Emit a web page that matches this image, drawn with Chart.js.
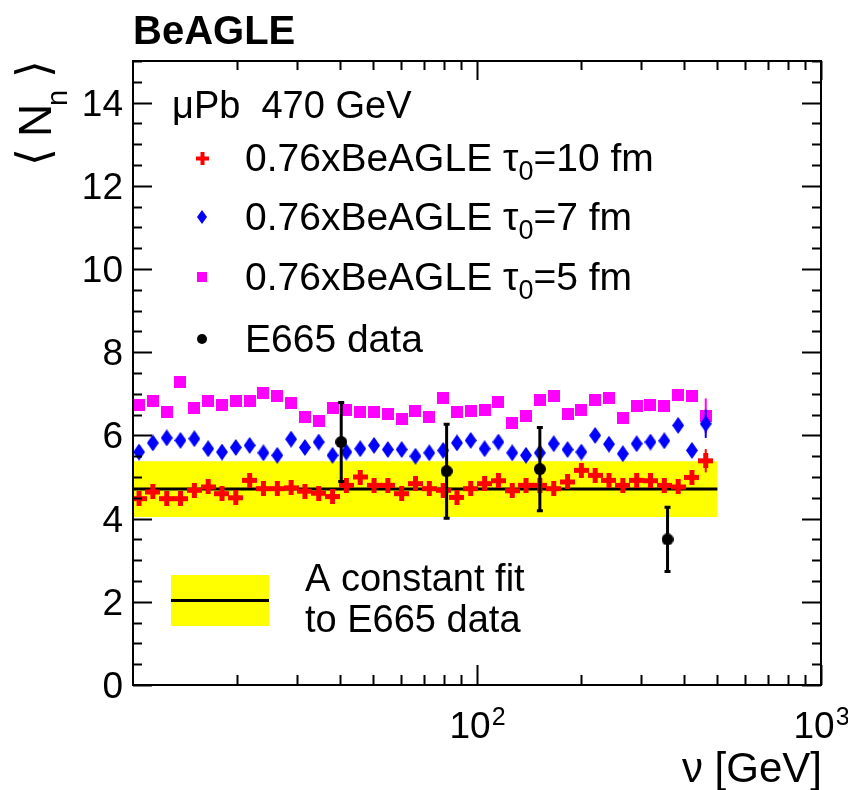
<!DOCTYPE html>
<html>
<head>
<meta charset="utf-8">
<script src="https://cdn.jsdelivr.net/npm/chart.js@4/dist/chart.umd.min.js"></script>
<style>
  html, body { margin: 0; padding: 0; background: #ffffff; }
  #wrap { width: 848px; height: 790px; }
</style>
</head>
<body>
<div id="wrap"><canvas id="c" width="848" height="790"></canvas></div>
<script>
// Photon energy bins (GeV), log-spaced bin centres
const NU = [10.41, 11.42, 12.53, 13.74, 15.08, 16.54, 18.14, 19.90, 21.83, 23.94,
            26.27, 28.81, 31.60, 34.66, 38.02, 41.71, 45.76, 50.19, 55.06, 60.39,
            66.25, 72.67, 79.72, 87.44, 95.90, 105.2, 115.4, 126.6, 138.8, 152.3,
            167.1, 183.3, 201.1, 220.5, 241.9, 265.4, 291.1, 319.4, 350.3, 384.3,
            421.5, 462.3];

// Mean neutron multiplicity, 0.76 x BeAGLE, formation time tau0 = 10 fm
const N_TAU10 = [4.48, 4.64, 4.48, 4.48, 4.68, 4.76, 4.60, 4.50, 4.92, 4.72,
                 4.72, 4.74, 4.66, 4.61, 4.53, 4.80, 5.00, 4.80, 4.80, 4.60,
                 4.84, 4.72, 4.68, 4.51, 4.72, 4.84, 4.91, 4.67, 4.80, 4.80,
                 4.72, 4.88, 5.16, 5.04, 4.92, 4.80, 4.92, 4.91, 4.80, 4.76,
                 4.99, 5.39];
const ERR_TAU10 = [0, 0, 0, 0, 0, 0, 0, 0, 0, 0, 0, 0, 0, 0, 0, 0, 0, 0, 0, 0, 0,
                   0, 0, 0, 0, 0, 0, 0, 0, 0, 0, 0, 0, 0, 0, 0, 0, 0, 0, 0, 0, 0.28];

// tau0 = 7 fm
const N_TAU7 = [5.60, 5.82, 5.94, 5.88, 5.92, 5.68, 5.60, 5.71, 5.76, 5.58,
                5.52, 5.91, 5.71, 5.84, 5.52, 5.60, 5.68, 5.76, 5.66, 5.66,
                5.50, 5.58, 5.64, 5.82, 5.88, 5.68, 5.84, 5.58, 5.52, 5.58,
                5.80, 5.66, 5.60, 6.00, 5.79, 5.56, 5.80, 5.84, 5.87, 6.24,
                5.64, 6.28];
const ERR_TAU7 = [0, 0, 0, 0, 0, 0, 0, 0, 0, 0, 0, 0, 0, 0, 0, 0, 0, 0, 0, 0, 0,
                  0, 0, 0, 0, 0, 0, 0, 0, 0, 0, 0, 0, 0, 0, 0, 0, 0, 0, 0, 0, 0.34];

// tau0 = 5 fm
const N_TAU5 = [6.72, 6.83, 6.56, 7.28, 6.65, 6.82, 6.74, 6.83, 6.83, 7.02,
                6.95, 6.79, 6.44, 6.35, 6.65, 6.60, 6.56, 6.56, 6.52, 6.39,
                6.58, 6.44, 6.90, 6.56, 6.59, 6.62, 6.80, 6.30, 6.47, 6.84,
                6.94, 6.52, 6.62, 6.86, 6.89, 6.42, 6.71, 6.72, 6.70, 6.96,
                6.95, 6.47];
const ERR_TAU5 = [0, 0, 0, 0, 0, 0, 0, 0, 0, 0, 0, 0, 0, 0, 0, 0, 0, 0, 0, 0, 0,
                  0, 0, 0, 0, 0, 0, 0, 0, 0, 0, 0, 0, 0, 0, 0, 0, 0, 0, 0, 0, 0.42];

// E665 measurement
const E665_NU  = [40.3, 81.6, 152.3, 358.0];
const E665_N   = [5.84, 5.14, 5.19, 3.50];
const E665_ERR = [0.95, 1.13, 1.00, 0.77];

// Constant fit to the E665 points and its band
const FIT_VALUE = 4.71;
const FIT_ERR   = 0.67;
const FIT_RANGE = [10, 500];

// Axis ticks
const X_RANGE = [10, 1000];
const Y_RANGE = [0, 15];
const X_MAJOR = [100, 1000];
const X_MAJOR_LABELS = [['10', '2'], ['10', '3']];
const X_MINOR = [20, 30, 40, 50, 60, 70, 80, 90, 200, 300, 400, 500, 600, 700, 800, 900];
const Y_MAJOR = [0, 2, 4, 6, 8, 10, 12, 14];
const Y_MAJOR_LABELS = ['0', '2', '4', '6', '8', '10', '12', '14'];
const Y_MINOR_STEP = 0.5;

// Legend text
const HEADER = 'μPb  470 GeV';
const LABEL_TAU10 = ['0.76xBeAGLE τ', '0', '=10 fm'];
const LABEL_TAU7  = ['0.76xBeAGLE τ', '0', '=7 fm'];
const LABEL_TAU5  = ['0.76xBeAGLE τ', '0', '=5 fm'];
const LABEL_DATA  = 'E665 data';
const LABEL_FIT   = ['A constant fit', 'to E665 data'];
const TITLE = 'BeAGLE';

const RED = '#ff0000', BLUE = '#0000ff', MAGENTA = '#ff00ff', YELLOW = '#ffff00', BLACK = '#000000';
const FONT = "'Liberation Sans', Arial, Helvetica, sans-serif";

// ---- marker sprites (ROOT-like markers) ----
function crossSprite(color, size, arm) {
  const c = document.createElement('canvas');
  c.width = size; c.height = size;
  const g = c.getContext('2d');
  g.fillStyle = color;
  const o = (size - arm) / 2;
  g.fillRect(o, 0, arm, size);
  g.fillRect(0, o, size, arm);
  return c;
}
function diamondSprite(color, w, h) {
  const c = document.createElement('canvas');
  c.width = w; c.height = h;
  const g = c.getContext('2d');
  g.fillStyle = color;
  g.beginPath();
  g.moveTo(w / 2, 0); g.lineTo(w, h / 2); g.lineTo(w / 2, h); g.lineTo(0, h / 2);
  g.closePath(); g.fill();
  return c;
}
function squareSprite(color, s) {
  const c = document.createElement('canvas');
  c.width = s; c.height = s;
  const g = c.getContext('2d');
  g.fillStyle = color;
  g.fillRect(0, 0, s, s);
  return c;
}
function circleSprite(color, d) {
  const c = document.createElement('canvas');
  c.width = d; c.height = d;
  const g = c.getContext('2d');
  g.fillStyle = color;
  g.beginPath(); g.arc(d / 2, d / 2, d / 2, 0, Math.PI * 2); g.fill();
  return c;
}

const MK_CROSS = crossSprite(RED, 15, 5);
const MK_DIAMOND = diamondSprite(BLUE, 12, 17);
const MK_SQUARE = squareSprite(MAGENTA, 12);
const MK_CIRCLE = circleSprite(BLACK, 12);
const LG_CROSS = crossSprite(RED, 13, 4);
const LG_DIAMOND = diamondSprite(BLUE, 10, 14);
const LG_SQUARE = squareSprite(MAGENTA, 10);
const LG_CIRCLE = circleSprite(BLACK, 10);

const pts = (xs, ys) => xs.map((x, i) => ({ x: x, y: ys[i] }));

// ---- error bars, drawn just before each dataset's markers ----
const errorBars = {
  id: 'errorBars',
  beforeDatasetDraw(chart, args) {
    const ds = chart.data.datasets[args.index];
    if (!ds.errors) return;
    const ys = chart.scales.y;
    const ctx = chart.ctx;
    ctx.save();
    ctx.strokeStyle = ds.errColor;
    ctx.lineWidth = ds.errWidth;
    args.meta.data.forEach((el, i) => {
      const e = ds.errors[i];
      if (!e) return;
      const v = ds.data[i].y;
      const y1 = ys.getPixelForValue(v + e);
      const y2 = ys.getPixelForValue(v - e);
      ctx.beginPath();
      ctx.moveTo(el.x, y1); ctx.lineTo(el.x, y2);
      if (ds.errCap) {
        ctx.moveTo(el.x - ds.errCap, y1); ctx.lineTo(el.x + ds.errCap, y1);
        ctx.moveTo(el.x - ds.errCap, y2); ctx.lineTo(el.x + ds.errCap, y2);
      }
      ctx.stroke();
    });
    ctx.restore();
  }
};

// ---- frame, inward ticks, labels, title and legends ----
function textWithSub(ctx, x, y, parts, size) {
  // parts: [main, subscript, rest]
  ctx.font = size + 'px ' + FONT;
  ctx.fillText(parts[0], x, y);
  let w = ctx.measureText(parts[0]).width;
  const sub = Math.round(size * 0.7);
  ctx.font = sub + 'px ' + FONT;
  ctx.fillText(parts[1], x + w, y + size * 0.22);
  w += ctx.measureText(parts[1]).width;
  ctx.font = size + 'px ' + FONT;
  ctx.fillText(parts[2], x + w, y);
}

const frame = {
  id: 'frame',
  afterDraw(chart) {
    const ctx = chart.ctx;
    const a = chart.chartArea;
    const xs = chart.scales.x, ys = chart.scales.y;
    ctx.save();
    ctx.strokeStyle = BLACK;
    ctx.fillStyle = BLACK;
    ctx.lineWidth = 2;

    // frame
    ctx.strokeRect(a.left, a.top, a.right - a.left, a.bottom - a.top);

    // y ticks (both sides)
    ctx.beginPath();
    for (let v = Y_RANGE[0]; v <= Y_RANGE[1] + 1e-9; v += Y_MINOR_STEP) {
      const y = Math.round(ys.getPixelForValue(v)) + 0.5;
      const len = Y_MAJOR.indexOf(v) >= 0 ? 19 : 9;
      ctx.moveTo(a.left, y); ctx.lineTo(a.left + len, y);
      ctx.moveTo(a.right, y); ctx.lineTo(a.right - len, y);
    }
    // x ticks (bottom and top)
    X_MINOR.forEach(v => {
      const x = Math.round(xs.getPixelForValue(v)) + 0.5;
      ctx.moveTo(x, a.bottom); ctx.lineTo(x, a.bottom - 10);
      ctx.moveTo(x, a.top); ctx.lineTo(x, a.top + 9);
    });
    X_MAJOR.forEach(v => {
      const x = Math.round(xs.getPixelForValue(v)) + 0.5;
      ctx.moveTo(x, a.bottom); ctx.lineTo(x, a.bottom - 20);
      ctx.moveTo(x, a.top); ctx.lineTo(x, a.top + 19);
    });
    ctx.stroke();

    // y tick labels
    ctx.textAlign = 'right';
    ctx.textBaseline = 'alphabetic';
    ctx.font = '37px ' + FONT;
    Y_MAJOR.forEach((v, i) => {
      const y = ys.getPixelForValue(v);
      ctx.fillText(Y_MAJOR_LABELS[i], a.left - 10, y + 13);
    });

    // x tick labels: 10^n
    X_MAJOR.forEach((v, i) => {
      const x = xs.getPixelForValue(v);
      const [base, exp] = X_MAJOR_LABELS[i];
      ctx.font = '37px ' + FONT;
      const wb = ctx.measureText(base).width;
      ctx.font = '25px ' + FONT;
      const we = ctx.measureText(exp).width;
      const x0 = x - (wb + we) / 2;
      ctx.textAlign = 'left';
      ctx.font = '37px ' + FONT;
      ctx.fillText(base, x0, 738);
      ctx.font = '25px ' + FONT;
      ctx.fillText(exp, x0 + wb + 1, 725);
    });

    // x axis title
    ctx.textAlign = 'right';
    ctx.font = '42px ' + FONT;
    ctx.fillText('ν [GeV]', a.right + 1, 782);

    // y axis title: <N_n>, reading upward
    const rot = (txt, font, bx, by) => {
      ctx.save();
      ctx.translate(bx, by);
      ctx.rotate(-Math.PI / 2);
      ctx.textAlign = 'left';
      ctx.font = font;
      ctx.fillText(txt, 0, 0);
      ctx.restore();
    };
    rot('⟨', "46px 'DejaVu Sans'", 49, 166);
    rot('N', '46px ' + FONT, 51, 137);
    rot('n', '29px ' + FONT, 67, 106);
    rot('⟩', "46px 'DejaVu Sans'", 49, 78);

    // title
    ctx.textAlign = 'left';
    ctx.font = 'bold 40px ' + FONT;
    ctx.fillText(TITLE, 133, 44);

    // upper legend
    ctx.font = '38px ' + FONT;
    ctx.fillText(HEADER, 172, 118);
    const rows = [
      [LG_CROSS, LABEL_TAU10, 158],
      [LG_DIAMOND, LABEL_TAU7, 217],
      [LG_SQUARE, LABEL_TAU5, 277],
    ];
    rows.forEach(([img, lab, cy]) => {
      ctx.drawImage(img, Math.round(202 - img.width / 2), Math.round(cy - img.height / 2));
      textWithSub(ctx, 245, cy + 13, lab, 39);
    });
    ctx.drawImage(LG_CIRCLE, 202 - LG_CIRCLE.width / 2, 339 - LG_CIRCLE.height / 2);
    ctx.font = '39px ' + FONT;
    ctx.fillText(LABEL_DATA, 245, 352);

    // lower legend: fit band + line
    ctx.fillStyle = YELLOW;
    ctx.fillRect(171, 575, 98, 51);
    ctx.strokeStyle = BLACK;
    ctx.lineWidth = 3;
    ctx.beginPath(); ctx.moveTo(171, 600.5); ctx.lineTo(269, 600.5); ctx.stroke();
    ctx.fillStyle = BLACK;
    ctx.font = '38px ' + FONT;
    ctx.fillText(LABEL_FIT[0], 305, 591);
    ctx.fillText(LABEL_FIT[1], 305, 632);

    ctx.restore();
  }
};

new Chart(document.getElementById('c'), {
  type: 'scatter',
  data: {
    datasets: [
      {
        label: 'E665 data',
        data: pts(E665_NU, E665_N),
        errors: E665_ERR, errColor: BLACK, errWidth: 3, errCap: 3,
        pointStyle: MK_CIRCLE, order: 0
      },
      {
        label: '0.76xBeAGLE tau0=10 fm',
        data: pts(NU, N_TAU10),
        errors: ERR_TAU10, errColor: RED, errWidth: 2,
        pointStyle: MK_CROSS, order: 1
      },
      {
        label: '0.76xBeAGLE tau0=7 fm',
        data: pts(NU, N_TAU7),
        errors: ERR_TAU7, errColor: BLUE, errWidth: 2,
        pointStyle: MK_DIAMOND, order: 2
      },
      {
        label: '0.76xBeAGLE tau0=5 fm',
        data: pts(NU, N_TAU5),
        errors: ERR_TAU5, errColor: MAGENTA, errWidth: 2,
        pointStyle: MK_SQUARE, order: 3
      },
      {
        label: 'constant fit',
        data: [{ x: FIT_RANGE[0], y: FIT_VALUE }, { x: FIT_RANGE[1], y: FIT_VALUE }],
        showLine: true, borderColor: BLACK, borderWidth: 3,
        pointRadius: 0, fill: false, order: 5
      },
      {
        label: 'fit band',
        data: [{ x: FIT_RANGE[0], y: FIT_VALUE + FIT_ERR }, { x: FIT_RANGE[1], y: FIT_VALUE + FIT_ERR }],
        showLine: true, borderWidth: 0, borderColor: YELLOW,
        backgroundColor: YELLOW, pointRadius: 0,
        fill: { value: FIT_VALUE - FIT_ERR }, order: 6
      }
    ]
  },
  options: {
    responsive: false,
    animation: false,
    devicePixelRatio: 1,
    layout: { padding: { left: 133, right: 27, top: 61, bottom: 105 } },
    plugins: { legend: { display: false }, tooltip: { enabled: false }, title: { display: false } },
    elements: { point: { radius: 7, hoverRadius: 7, borderWidth: 0 } },
    scales: {
      x: { type: 'logarithmic', min: X_RANGE[0], max: X_RANGE[1], display: false },
      y: { type: 'linear', min: Y_RANGE[0], max: Y_RANGE[1], display: false }
    }
  },
  plugins: [errorBars, frame]
});
</script>
</body>
</html>
